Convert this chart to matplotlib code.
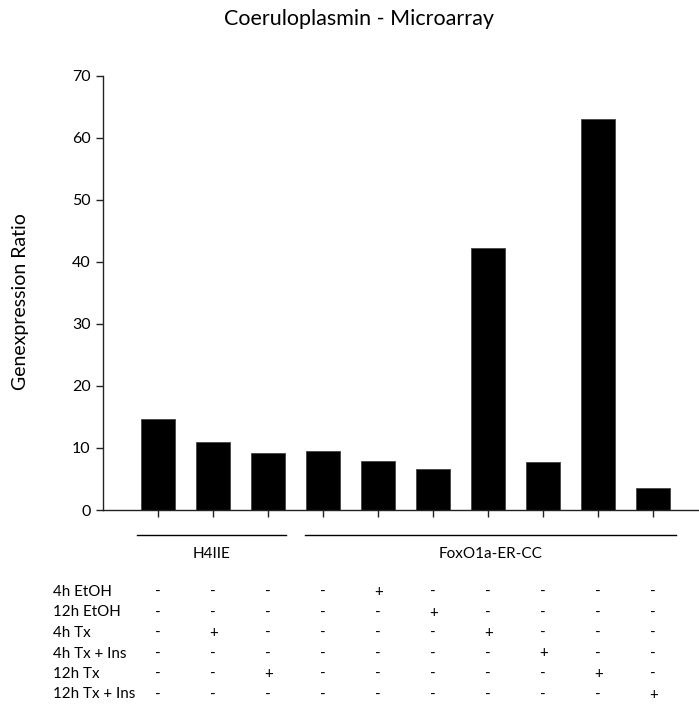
import matplotlib
matplotlib.use("Agg")
import matplotlib.pyplot as plt
import matplotlib.transforms as mtransforms

# ── data ───────────────────────────────────────────────────────
ratios = [14.65, 10.9, 9.2, 9.55, 7.9, 6.65, 42.3, 7.8, 63.1, 3.55]

groups = ["H4IIE", "FoxO1a-ER-CC"]
group_span = [(-0.38, 2.33), (2.67, 9.41)]

row_labels = ["4h EtOH", "12h EtOH", "4h Tx", "4h Tx + Ins", "12h Tx", "12h Tx + Ins"]
treat = [
    "----+-----",
    "-----+----",
    "-+----+---",
    "-------+--",
    "--+-----+-",
    "---------+",
]

# ── figure (pixel layout) ──────────────────────────────────────
W, H = 699, 704
plt.rcParams["font.family"] = ["Lato", "DejaVu Sans"]
fig = plt.figure(figsize=(W / 100, H / 100), dpi=100)

def fy(y):
    return 1 - y / H

ax_left, ax_bot, ax_top = 103.3, 510, 75.7
slot = 55.0
ax = fig.add_axes([ax_left / W, fy(ax_bot), 11 * slot / W, (ax_bot - ax_top) / H])

x = list(range(len(ratios)))
ax.bar(x, ratios, width=0.62, color="black", edgecolor="#444444", linewidth=0.6)

ax.set_xlim(-1, 10)
ax.set_ylim(0, 70)
ax.set_yticks(range(0, 71, 10))
ax.set_xticks(x)
ax.set_xticklabels([])
for s in ["top", "right"]:
    ax.spines[s].set_visible(False)
for s in ["left", "bottom"]:
    ax.spines[s].set_linewidth(1.0)
    ax.spines[s].set_color("#222222")
ax.tick_params(axis="both", direction="out", length=5, width=1.0, color="#222222")
ax.tick_params(axis="y", labelsize=11.5, pad=4)

fig.text(21 / W, fy(302), "Genexpression Ratio", rotation=90,
         ha="center", va="center", fontsize=14)
fig.text(359 / W, fy(19), "Coeruloplasmin - Microarray",
         ha="center", va="center", fontsize=15.5)

# group lines and labels below the axis
bt = mtransforms.blended_transform_factory(ax.transData, fig.transFigure)
for name, (a, b) in zip(groups, group_span):
    ax.plot([a, b], [fy(535), fy(535)], color="black", lw=1.0,
            transform=bt, clip_on=False)
    ax.text((a + b) / 2, fy(558), name, transform=bt,
            ha="center", va="baseline", fontsize=11)

# treatment table
for r, (lab, marks) in enumerate(zip(row_labels, treat)):
    yb = fy(596 + 20.5 * r)
    fig.text(53 / W, yb, lab, ha="left", va="baseline", fontsize=10.9)
    for i, m in enumerate(marks):
        ax.text(i, yb, m, transform=bt, ha="center", va="baseline", fontsize=10.9)

fig.savefig("out.png", dpi=100)
